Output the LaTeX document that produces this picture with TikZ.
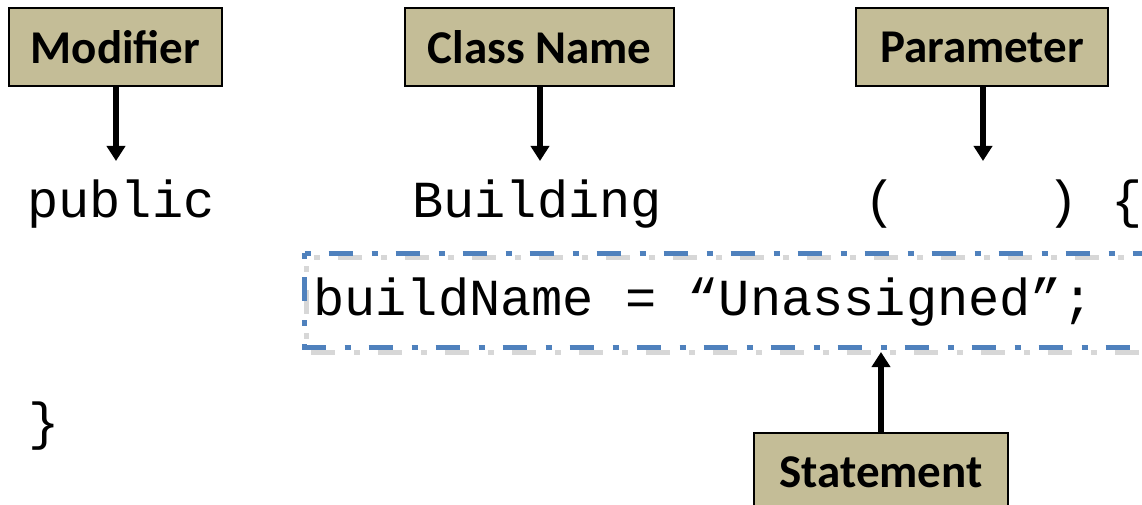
\documentclass[tikz,border=0pt]{standalone}
\usepackage{fontspec}
\setmainfont{Carlito}
\newfontfamily\codefont{Liberation Mono}
\usetikzlibrary{arrows.meta}
\definecolor{tanfill}{HTML}{C4BD97}
\definecolor{dashblue}{HTML}{4F81BD}
\tikzset{
  labelbox/.style={draw=black, line width=2pt, fill=tanfill, inner sep=0pt,
    minimum height=78pt, font=\fontsize{47}{56}\selectfont\bfseries},
  code/.style={inner sep=0pt, font=\codefont\fontsize{52}{60}\selectfont},
  pointer/.style={line width=5.5pt, -{Triangle[width=18pt,length=15pt]}},
  frameline/.style={dashblue, line width=5pt, dash pattern=on 6pt off 18pt on 24pt off 19pt},
  frameshadow/.style={black!35, opacity=0.45, line width=5pt, dash pattern=on 6pt off 18pt on 24pt off 19pt},
}
\begin{document}
\begin{tikzpicture}[x=1pt, y=-1pt]
  \useasboundingbox (0,0) rectangle (1142,505);
  \clip (0,0) rectangle (1142,505);

  % statement frame: shadow, then the dash-dot outline (open to the right)
  \draw[frameshadow] (314,257) -- (1160,257);
  \draw[frameshadow] (306,266) -- (306,352) -- (1160,352);
  \draw[frameline] (304.5,253) -- (1160,253);
  \draw[frameline] (304.5,253) -- (304.5,347) -- (1160,347);

  % label boxes
  \node[labelbox, minimum width=213pt] (modifier) at (115.5,47) {Modifier};
  \node[labelbox, minimum width=269pt] (classname) at (539.5,47) {Class Name};
  \node[labelbox, minimum width=252pt] (parameter) at (982,47.5) {Parameter};
  \node[labelbox, minimum width=254pt] (statement) at (881,472) {Statement};

  % code
  \node[code, anchor=base west] (kwpublic) at (27,217) {public};
  \node[code, anchor=base west] (clsname) at (412,217) {Building};
  \node[code, anchor=base] (lparen) at (880,217) {(};
  \node[code, anchor=base] (rparen) at (1063,217) {)};
  \node[code, anchor=base] (lbrace) at (1127,217) {\makebox[12pt][c]{\{}};
  \node[code, anchor=base west] (body) at (313,315) {buildName = “Unassigned”;};
  \node[code, anchor=base] (rbrace) at (44,439) {\}};

  % arrow tips
  \coordinate (modtip) at (116,161);
  \coordinate (clstip) at (540,161);
  \coordinate (partip) at (983,161);
  \coordinate (stmtip) at (881,352);

  \draw[pointer] (modifier.south -| modtip) -- (modtip);
  \draw[pointer] (classname.south -| clstip) -- (clstip);
  \draw[pointer] (parameter.south -| partip) -- (partip);
  \draw[pointer] (statement.north -| stmtip) -- (stmtip);
\end{tikzpicture}
\end{document}
